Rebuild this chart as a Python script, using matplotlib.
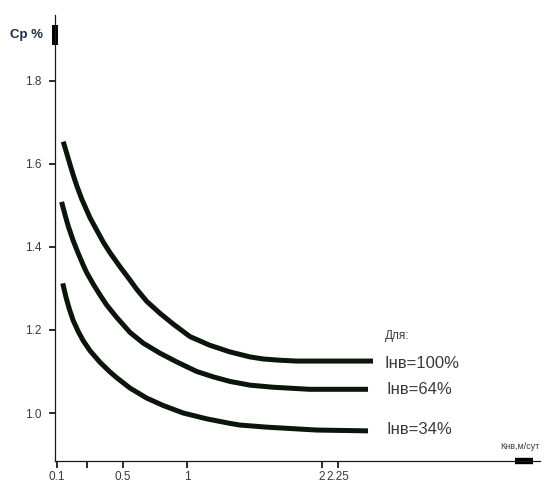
"""
Ср % в зависимости от Кнв (м/сут) для трёх значений Iнв.
Схематичный график: ось X в оригинале нарисована неравномерно,
поэтому используется кусочно-линейная шкала (FuncScale).
"""

import numpy as np
import matplotlib
matplotlib.use("Agg")
import matplotlib.pyplot as plt

# ============================================================
# данные
# ============================================================

k_100 = [0.138, 0.159, 0.179, 0.199, 0.219, 0.250, 0.280, 0.300, 0.341, 0.381,
         0.421, 0.482, 0.555, 0.607, 0.685, 0.789, 0.893, 1.022, 1.170, 1.319,
         1.467, 1.565, 1.689, 1.813, 2.511]
cp_100 = [1.653, 1.625, 1.598, 1.572, 1.548, 1.515, 1.488, 1.470, 1.440, 1.411,
          1.386, 1.352, 1.320, 1.298, 1.269, 1.240, 1.214, 1.184, 1.163, 1.147,
          1.135, 1.130, 1.127, 1.125, 1.125]

k_64 = [0.128, 0.148, 0.168, 0.199, 0.229, 0.259, 0.280, 0.320, 0.361, 0.401,
        0.462, 0.555, 0.659, 0.789, 0.920, 1.072, 1.195, 1.319, 1.467, 1.639,
        1.911, 2.474]
cp_64 = [1.508, 1.478, 1.450, 1.414, 1.384, 1.356, 1.338, 1.310, 1.284, 1.260,
         1.230, 1.194, 1.168, 1.144, 1.123, 1.100, 1.087, 1.076, 1.067, 1.062,
         1.057, 1.057]

k_34 = [0.135, 0.155, 0.175, 0.199, 0.229, 0.259, 0.300, 0.361, 0.421, 0.462,
        0.555, 0.685, 0.815, 0.971, 1.146, 1.319, 1.393, 1.590, 1.961, 2.474]
cp_34 = [1.312, 1.278, 1.250, 1.222, 1.196, 1.174, 1.150, 1.122, 1.099, 1.085,
         1.060, 1.036, 1.018, 1.000, 0.986, 0.975, 0.971, 0.966, 0.959, 0.957]

series_labels = ["Iнв=100%", "Iнв=64%", "Iнв=34%"]

x_ticks = [0.1, 0.28, 0.5, 1, 2, 2.25]
x_ticklabels = ["0.1", "", "0.5", "1", "2", "2.25"]
y_ticks = [1.0, 1.2, 1.4, 1.6, 1.8]
y_ticklabels = ["1.0", "1.2", "1.4", "1.6", "1.8"]

# опорные точки неравномерной оси X (значение -> условная позиция)
X_VAL = [0.0, 0.1, 0.5, 1.0, 2.0, 2.25, 4.0]
X_POS = [40.5, 57.0, 123.0, 187.0, 322.0, 338.0, 574.0]

W, H = 557, 486
LINE_COLOR = "#0b150b"
TEXT_COLOR = "#3a3a3a"


def fx(px):
    return px / W


def fy(py):
    return 1 - py / H


def main():
    plt.rcParams["font.family"] = ["Liberation Sans", "DejaVu Sans"]

    fig = plt.figure(figsize=(W / 100, H / 100), dpi=100)
    ax = fig.add_axes([fx(55), fy(461), (540 - 55) / W, (461 - 15) / H])

    ax.set_xscale("function", functions=(
        lambda x: np.interp(x, X_VAL, X_POS),
        lambda p: np.interp(p, X_POS, X_VAL),
    ))
    ax.set_xlim(0.088, 3.75)
    ax.set_ylim(0.8845, 1.9577)

    for k, cp in [(k_100, cp_100), (k_64, cp_64), (k_34, cp_34)]:
        ax.plot(k, cp, color=LINE_COLOR, lw=3.6, solid_capstyle="butt",
                solid_joinstyle="round")

    # оси
    for s in ("top", "right"):
        ax.spines[s].set_visible(False)
    for s in ("left", "bottom"):
        ax.spines[s].set_linewidth(0.9)
        ax.spines[s].set_color("#1a1a1a")

    ax.set_xticks(x_ticks)
    ax.set_xticklabels(x_ticklabels)
    ax.set_yticks(y_ticks)
    ax.set_yticklabels(y_ticklabels)
    ax.minorticks_off()
    ax.tick_params(axis="y", direction="out", length=4.5, width=1.3,
                   pad=5, labelsize=8.5, labelcolor=TEXT_COLOR, color="#1a1a1a")
    ax.tick_params(axis="x", direction="out", length=5, width=1.3,
                   pad=2, labelsize=8.5, labelcolor=TEXT_COLOR, color="#1a1a1a")

    # "стрелки" на концах осей
    ax.plot([0, 0], [0.933, 0.978], transform=ax.transAxes, color="black",
            lw=4.3, solid_capstyle="butt", clip_on=False)
    ax.plot([0.948, 0.986], [0, 0], transform=ax.transAxes, color="black",
            lw=4.6, solid_capstyle="butt", clip_on=False)

    # подписи осей
    fig.text(fx(10), fy(35), "Ср %", fontsize=9.5, fontweight="bold",
             color="#1c2a48", va="center", ha="left")
    fig.text(fx(500), fy(446), "Кнв,м/сут", fontsize=6.5,
             color=TEXT_COLOR, va="center", ha="left")

    # подписи кривых
    fig.text(fx(385), fy(336), "Для:", fontsize=8.5, color=TEXT_COLOR,
             va="center", ha="left")
    for label, (px, py) in zip(series_labels, [(385, 363), (387, 389), (387, 429)]):
        fig.text(fx(px), fy(py), label, fontsize=12, color=TEXT_COLOR,
                 va="center", ha="left")

    fig.savefig("out.png", dpi=100)
    plt.close(fig)


if __name__ == "__main__":
    main()
